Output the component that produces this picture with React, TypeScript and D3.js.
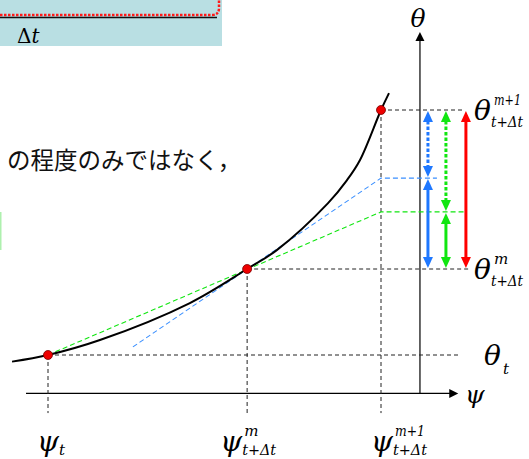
import React from 'react';
import * as d3 from 'd3';

// ψ (suction) and θ (water content) in normalised units: ψ_t = 0, ψ^{m+1} = 1, θ_t = 0, θ^{m+1} = 1
const psiKeys = [0, 0.598, 1];
const thetaKeys = [0, 0.351, 1];
const curvePsi = [-0.108, 0, 0.156, 0.426, 0.598, 0.688, 0.841, 0.898, 0.937, 1, 1.024];
const curveTheta = [-0.027, 0, 0.061, 0.212, 0.351, 0.429, 0.62, 0.714, 0.796, 1, 1.069];
const blueLinePsi = [0.255, 1, 1.168];
const blueLineTheta = [0.033, 0.722, 0.722];
const greenLinePsi = [0, 1, 1.252];
const greenLineTheta = [0, 0.584, 0.584];
const psiLabels = [['t', ''], ['t+Δt', 'm'], ['t+Δt', 'm+1']];
const thetaLabels = [['t', ''], ['t+Δt', 'm'], ['t+Δt', 'm+1']];

const W = 529;
const H = 459;

const x = d3.scaleLinear().domain([0, 1]).range([48, 381]);
const y = d3.scaleLinear().domain([0, 1]).range([355, 110]);

const BLUE = '#1f78ff';
const BLUE_D = '#3a8fff';
const GREEN = '#11e611';
const RED = '#ff0000';
const serif = { fontFamily: "'DejaVu Serif', serif" };

const line = d3.line<number[]>().x(d => x(d[0])).y(d => y(d[1]));
const curveLine = d3.line<number[]>().x(d => x(d[0])).y(d => y(d[1])).curve(d3.curveCatmullRom.alpha(0.5));

// vertical double-headed arrows to the right of the θ axis
const arrows = [
  { psi: 1.141, from: thetaKeys[2], to: blueLineTheta[1], color: BLUE, dotted: true },
  { psi: 1.141, from: blueLineTheta[1], to: thetaKeys[1], color: BLUE, dotted: false },
  { psi: 1.195, from: thetaKeys[2], to: greenLineTheta[1], color: GREEN, dotted: true },
  { psi: 1.195, from: greenLineTheta[1], to: thetaKeys[1], color: GREEN, dotted: false },
  { psi: 1.255, from: thetaKeys[2], to: thetaKeys[1], color: RED, dotted: false },
];

const Arrow = ({ a }: { a: typeof arrows[0] }) => {
  const ax = x(a.psi);
  const y1 = y(a.from) + 1;
  const y2 = y(a.to) - 1;
  const hl = 11;
  const hw = 5;
  return (
    <g>
      <line x1={ax} x2={ax} y1={y1 + hl - 1} y2={y2 - hl + 1} stroke={a.color} strokeWidth={3}
        strokeDasharray={a.dotted ? '3.5,2' : undefined} />
      <path d={`M${ax},${y1}L${ax - hw},${y1 + hl}L${ax + hw},${y1 + hl}Z`} fill={a.color} />
      <path d={`M${ax},${y2}L${ax - hw},${y2 - hl}L${ax + hw},${y2 - hl}Z`} fill={a.color} />
    </g>
  );
};

// fitted script text
const Script = ({ x0, y0, s, len }: { x0: number; y0: number; s: string; len: number }) => (
  <text x={x0} y={y0} fontSize={15} textLength={s.length > 1 ? len : undefined} lengthAdjust="spacingAndGlyphs">{s}</text>
);

const App = () => {
  const axisPsi = 1.117;
  const axisTheta = -0.157;
  const ox = x(axisPsi);
  const oy = y(axisTheta);
  const bottom = y(-0.237);
  const hEnds = [x(1.24), x(1.265), x(1.25)];

  return (
    <svg width={W} height={H} style={{ position: 'absolute', left: 0, top: 0, background: '#fff' }}>
      {/* box fragment at top left */}
      <rect x={0} y={0} width={222} height={46} fill="#b9dfe3" />
      <path d="M0,15H212Q219,15 219,8V0" fill="none" stroke="#ff1a1a" strokeWidth={2.5} strokeDasharray="2.5,1.5" />
      <line x1={0} x2={217} y1={17.5} y2={17.5} stroke="#111" strokeWidth={1.3} />
      <text x={17} y={43} style={serif} fontSize={20}>Δ<tspan fontStyle="italic">t</tspan></text>
      <rect x={0} y={212} width={1.5} height={38} fill="#aef0ae" />

      <text x={7} y={169} style={{ fontFamily: "'Noto Sans CJK JP', sans-serif" }} fontSize={23.5} fill="#111">の程度のみではなく，</text>

      {/* axes */}
      <line x1={x(-0.066)} x2={x(1.215)} y1={oy} y2={oy} stroke="#000" strokeWidth={1.2} />
      <path d={`M${x(1.232)},${oy}l-9,-4.5v9Z`} fill="#000" />
      <line x1={ox} x2={ox} y1={oy} y2={y(1.29)} stroke="#000" strokeWidth={1.2} />
      <path d={`M${ox},${y(1.318)}l-4.5,9h9Z`} fill="#000" />
      <text x={ox - 2} y={27} style={serif} fontStyle="italic" fontSize={25} textAnchor="middle">θ</text>
      <text x={465} y={403} style={serif} fontStyle="italic" fontSize={25}>ψ</text>

      {/* dashed guides */}
      {psiKeys.map((p, i) => (
        <g key={i}>
          <line x1={x(p)} x2={x(p)} y1={y(thetaKeys[i])} y2={bottom} stroke="#222" strokeWidth={1} strokeDasharray="4,3" />
          <line x1={x(p)} x2={hEnds[i]} y1={y(thetaKeys[i])} y2={y(thetaKeys[i])} stroke="#222" strokeWidth={1} strokeDasharray="4,3" />
        </g>
      ))}

      {/* tangent and secant */}
      <path d={line(greenLinePsi.map((p, i) => [p, greenLineTheta[i]])) || ''} fill="none" stroke={GREEN} strokeWidth={1.1} strokeDasharray="5,3" />
      <path d={line(blueLinePsi.map((p, i) => [p, blueLineTheta[i]])) || ''} fill="none" stroke={BLUE_D} strokeWidth={1.1} strokeDasharray="5,3" />

      {/* retention curve */}
      <path d={curveLine(curvePsi.map((p, i) => [p, curveTheta[i]])) || ''} fill="none" stroke="#000" strokeWidth={2} />

      {psiKeys.map((p, i) => (
        <circle key={i} cx={x(p)} cy={y(thetaKeys[i])} r={4.5} fill="#ee0000" stroke="#700" strokeWidth={0.8} />
      ))}

      {arrows.map((a, i) => <Arrow key={i} a={a} />)}

      {/* θ labels */}
      {thetaKeys.map((t, i) => {
        const [sub, sup] = thetaLabels[i];
        const ty = y(t);
        const lx = i === 0 ? 484 : 474;
        return (
          <g key={i} style={serif} fontStyle="italic">
            <text x={lx} y={ty + 10} fontSize={28}>θ</text>
            {sup && <Script x0={lx + 20} y0={ty - 5} s={sup} len={27} />}
            <Script x0={lx + (i === 0 ? 19 : 17)} y0={ty + (i === 0 ? 19 : 17)} s={sub} len={32} />
          </g>
        );
      })}

      {/* ψ labels */}
      {psiKeys.map((p, i) => {
        const [sub, sup] = psiLabels[i];
        const px = x(p);
        const lx = px + (i === 0 ? -11 : i === 1 ? -27 : -10);
        return (
          <g key={i} style={serif} fontStyle="italic">
            <text x={lx} y={451} fontSize={28}>ψ</text>
            {sup && <Script x0={lx + 24} y0={436} s={sup} len={30} />}
            <Script x0={lx + 22} y0={455} s={sub} len={34} />
          </g>
        );
      })}
    </svg>
  );
};

export default App;
